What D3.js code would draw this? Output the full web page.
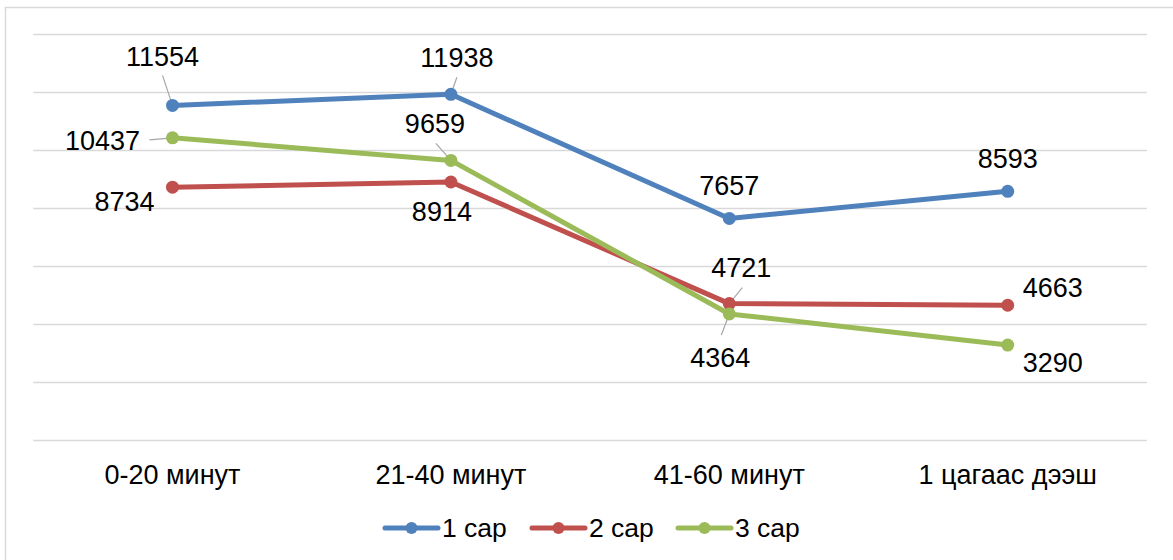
<!DOCTYPE html>
<html>
<head>
<meta charset="utf-8">
<script src="https://cdn.jsdelivr.net/npm/d3@7"></script>
<style>
  body { margin: 0; background: #fff; }
  svg text { font-family: "Liberation Sans", Arial, sans-serif; fill: #000; }
</style>
</head>
<body>
<script>
// chart data
const categories = ['0-20 минут', '21-40 минут', '41-60 минут', '1 цагаас дээш'];
const seriesNames = ['1 сар', '2 сар', '3 сар'];
const sar1 = [11554, 11938, 7657, 8593];
const sar2 = [8734, 8914, 4721, 4663];
const sar3 = [10437, 9659, 4364, 3290];
const yTicks = [0, 2000, 4000, 6000, 8000, 10000, 12000, 14000];

const colors = ['#4f81bd', '#c0504d', '#9bbb59'];

// label placement (dx, dy from point to text centre / baseline) and leader starts
const labelPos = [
  [[-10, -39], [6, -27], [0, -23], [0, -23]],
  [[-48, 24], [-9, 39], [12, -27], [45, -8]],
  [[-70, 12], [-16, -27], [-9, 53], [45, 27]]
];
const leaders = [
  [[-10, -30], [6, -17], null, null],
  [null, null, [13, -16], null],
  [[-23, 2], [-15, -17], [-8, 21], null]
];

const W = 1173, H = 560;
const svg = d3.select('body').append('svg')
  .attr('width', W)
  .attr('height', H);

// outer chart border
svg.append('rect')
  .attr('x', 5.5).attr('y', 7.5)
  .attr('width', W + 10).attr('height', H + 10)
  .attr('fill', 'none')
  .attr('stroke', '#d9d9d9')
  .attr('stroke-width', 1.5);

const x = d3.scalePoint()
  .domain(categories)
  .range([33.3, 1146.9])
  .padding(0.5);

const y = d3.scaleLinear()
  .domain([0, 14000])
  .range([440.5, 34.5]);

// gridlines
svg.append('g')
  .selectAll('line')
  .data(yTicks)
  .enter()
  .append('line')
  .attr('x1', 33.3).attr('x2', 1146.9)
  .attr('y1', d => y(d)).attr('y2', d => y(d))
  .attr('stroke', '#d9d9d9')
  .attr('stroke-width', 1.5);

// category labels
svg.append('g')
  .selectAll('text')
  .data(categories)
  .enter()
  .append('text')
  .attr('x', d => x(d))
  .attr('y', 484)
  .attr('text-anchor', 'middle')
  .attr('font-size', 27)
  .text(d => d);

const series = [sar1, sar2, sar3];
const line = d3.line()
  .x((d, i) => x(categories[i]))
  .y(d => y(d));

// leader lines (drawn under markers)
series.forEach((vals, s) => {
  vals.forEach((v, i) => {
    const l = leaders[s][i];
    if (!l) return;
    const px = x(categories[i]), py = y(v);
    svg.append('line')
      .attr('x1', px + l[0]).attr('y1', py + l[1])
      .attr('x2', px).attr('y2', py)
      .attr('stroke', '#a6a6a6')
      .attr('stroke-width', 1.2);
  });
});

series.forEach((vals, s) => {
  const g = svg.append('g');
  g.append('path')
    .datum(vals)
    .attr('d', line)
    .attr('fill', 'none')
    .attr('stroke', colors[s])
    .attr('stroke-width', 5)
    .attr('stroke-linejoin', 'round');
  g.selectAll('circle')
    .data(vals)
    .enter()
    .append('circle')
    .attr('cx', (d, i) => x(categories[i]))
    .attr('cy', d => y(d))
    .attr('r', 6.5)
    .attr('fill', colors[s]);
});

// data labels
series.forEach((vals, s) => {
  svg.append('g')
    .selectAll('text')
    .data(vals)
    .enter()
    .append('text')
    .attr('x', (d, i) => x(categories[i]) + labelPos[s][i][0])
    .attr('y', (d, i) => y(d) + labelPos[s][i][1])
    .attr('text-anchor', 'middle')
    .attr('font-size', 27)
    .text(d => d);
});

// legend
const legendX = [385, 532, 678];
seriesNames.forEach((name, s) => {
  const lg = svg.append('g').attr('transform', `translate(${legendX[s]},528)`);
  lg.append('line')
    .attr('x1', 0).attr('x2', 53)
    .attr('stroke', colors[s])
    .attr('stroke-width', 5)
    .attr('stroke-linecap', 'round');
  lg.append('circle')
    .attr('cx', 26.5)
    .attr('r', 6)
    .attr('fill', colors[s]);
  lg.append('text')
    .attr('x', 57)
    .attr('y', 9)
    .attr('font-size', 26.5)
    .text(name);
});
</script>
</body>
</html>
